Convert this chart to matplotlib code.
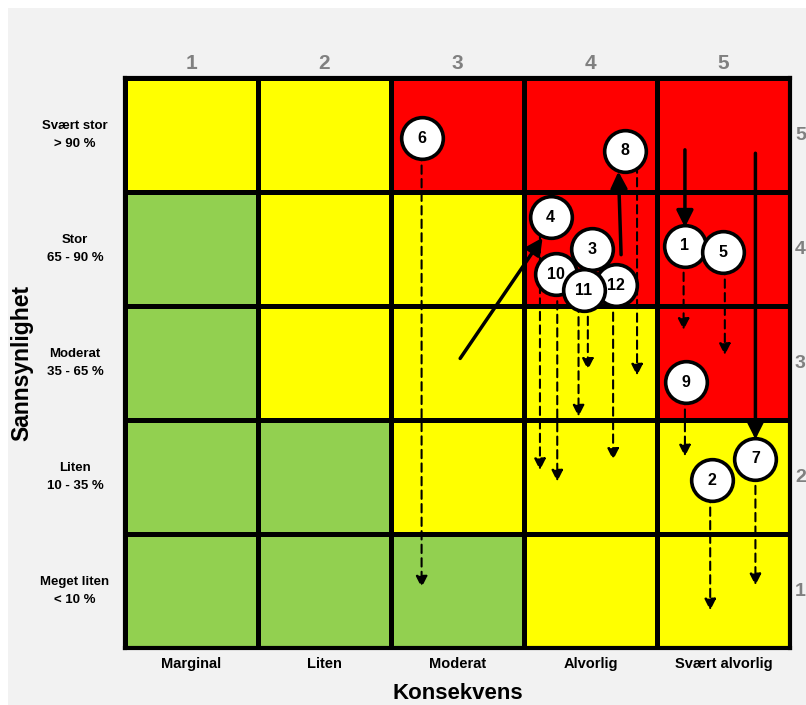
import matplotlib.pyplot as plt
from matplotlib.colors import ListedColormap
from matplotlib.patches import Rectangle
import numpy as np

# Risk matrix: consequence (x, 1-5) against likelihood (y, 1-5)
konsekvens = ['Marginal', 'Liten', 'Moderat', 'Alvorlig', 'Svært alvorlig']
sannsynlighet = ['Meget liten\n< 10 %', 'Liten\n10 - 35 %', 'Moderat\n35 - 65 %',
                 'Stor\n65 - 90 %', 'Svært stor\n> 90 %']

# 0 = green, 1 = yellow, 2 = red; rows from likelihood 1 (bottom) to 5 (top)
risk_level = [
    [0, 0, 0, 1, 1],
    [0, 0, 1, 1, 1],
    [0, 1, 1, 1, 2],
    [0, 1, 1, 2, 2],
    [1, 1, 2, 2, 2],
]

# Numbered risks (position before measures)
risk_id = ['6', '8', '4', '1', '5', '3', '10', '12', '11', '9', '7', '2']
risk_x = [2.73, 4.26, 3.70, 4.71, 5.00, 4.01, 3.74, 4.19, 3.95, 4.72, 5.24, 4.91]
risk_y = [4.97, 4.86, 4.28, 4.03, 3.97, 4.00, 3.78, 3.68, 3.64, 2.83, 2.16, 1.97]

# Dashed arrows: expected effect of measures (x, y start, y end)
dash_x = [2.73, 3.62, 3.75, 3.98, 3.91, 4.17, 4.35, 4.70, 5.01, 4.71, 4.90, 5.24]
dash_y0 = [4.97, 4.28, 3.78, 4.00, 3.64, 3.68, 4.86, 4.03, 3.97, 2.83, 1.97, 2.16]
dash_y1 = [1.03, 2.06, 1.96, 2.94, 2.53, 2.15, 2.89, 3.29, 3.07, 2.18, 0.83, 1.05]

# Solid arrows: change since previous assessment
move_x0 = [3.02, 4.23, 4.71, 5.24]
move_y0 = [3.04, 3.95, 4.87, 4.84]
move_x1 = [3.64, 4.21, 4.71, 5.24]
move_y1 = [4.10, 4.68, 4.19, 2.33]

fig = plt.figure(figsize=(8.06, 7.05), dpi=100, facecolor='white')
fig.patches.append(Rectangle((8 / 806, 0), 1, 1 - 8 / 705, transform=fig.transFigure,
                             facecolor='#f2f2f2', edgecolor='none', zorder=-10))
ax = fig.add_axes([125 / 806, 1 - 648 / 705, 665 / 806, 570 / 705])

cmap = ListedColormap(['#92d050', '#ffff00', '#ff0000'])
edges = np.arange(0.5, 6.0, 1.0)
ax.pcolormesh(edges, edges, np.array(risk_level), cmap=cmap, vmin=-0.5, vmax=2.5,
              edgecolors='black', linewidth=2.2)
ax.set_xlim(0.5, 5.5)
ax.set_ylim(0.5, 5.5)
ax.set_xticks([])
ax.set_yticks([])
for s in ax.spines.values():
    s.set_linewidth(3)

# dashed arrows
for x, y0, y1 in zip(dash_x, dash_y0, dash_y1):
    ax.annotate('', xy=(x, y1), xytext=(x, y0),
                arrowprops=dict(arrowstyle='-|>', color='black', lw=1.5,
                                linestyle=(0, (4, 2.5)), mutation_scale=17,
                                shrinkA=0, shrinkB=0), zorder=3)

# solid arrows
for x0, y0, x1, y1 in zip(move_x0, move_y0, move_x1, move_y1):
    ax.annotate('', xy=(x1, y1), xytext=(x0, y0),
                arrowprops=dict(arrowstyle='-|>', color='black', lw=2.5,
                                mutation_scale=25, shrinkA=0, shrinkB=0), zorder=3)

# numbered circles
for i, (label, x, y) in enumerate(zip(risk_id, risk_x, risk_y)):
    ax.scatter(x, y, s=900, facecolor='white', edgecolor='black', linewidth=2.6,
               zorder=5 + i * 0.1)
    ax.text(x, y, label, ha='center', va='center', fontsize=11.5, fontweight='bold',
            family='Liberation Sans', zorder=5 + i * 0.1 + 0.05)

# column numbers on top, row numbers on the right
for i in range(5):
    ax.text(i + 1, 5.63, str(i + 1), ha='center', va='center', fontsize=15,
            fontweight='bold', color='#808080', family='Liberation Sans', clip_on=False)
    ax.text(5.5 + 5 / 133, i + 1, str(i + 1), ha='left', va='center', fontsize=14,
            fontweight='bold', color='#808080', family='Liberation Sans', clip_on=False)
    ax.text(i + 1, 0.36, konsekvens[i], ha='center', va='center', fontsize=10.5,
            fontweight='bold', family='Liberation Sans', clip_on=False)
    ax.text(0.124, i + 1, sannsynlighet[i], ha='center', va='center', fontsize=9.5,
            fontweight='bold', family='Liberation Sans', linespacing=1.6, clip_on=False)

ax.text(3.0, 0.105, 'Konsekvens', ha='center', va='center', fontsize=16,
        fontweight='bold', family='Liberation Sans', clip_on=False)
ax.text(-0.274, 3.0, 'Sannsynlighet', ha='center', va='center', rotation=90,
        fontsize=16.5, fontweight='bold', family='Liberation Sans', clip_on=False)

fig.savefig('out.png', dpi=100, facecolor=fig.get_facecolor())
